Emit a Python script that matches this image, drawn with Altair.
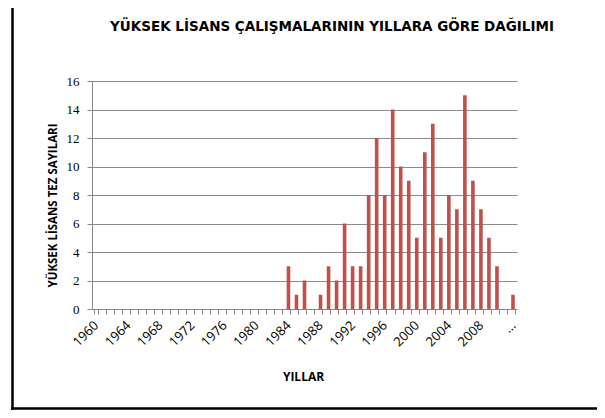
import altair as alt
import pandas as pd

years = [str(y) for y in range(1960, 2012)] + ["..."]
counts = [0] * 24 + [3, 1, 2, 0, 1, 3, 2, 6, 3, 3, 8, 12, 8, 14, 10, 9, 5, 11, 13, 5, 8, 7, 15, 9, 7, 5, 3, 0, 1]
shown_labels = [str(y) for y in range(1960, 2012, 4)] + ["..."]
y_ticks = [0, 2, 4, 6, 8, 10, 12, 14, 16]

title_text = "YÜKSEK LİSANS ÇALIŞMALARININ YILLARA GÖRE DAĞILIMI"
x_title = "YILLAR"
y_title = "YÜKSEK LİSANS TEZ  SAYILARI"

df = pd.DataFrame({"yil": years, "sayi": counts})

label_list = "[" + ",".join("'" + s + "'" for s in shown_labels) + "]"

bars = alt.Chart(df).mark_bar(color="#C0504D").encode(
    x=alt.X(
        "yil:N",
        sort=years,
        scale=alt.Scale(paddingInner=0.55, paddingOuter=0.275),
        axis=alt.Axis(
            title=x_title,
            titleFont="Open Sans",
            titleFontSize=12,
            titleFontWeight="bold",
            titleColor="#000000",
            titleX=211,
            titleY=67,
            titleBaseline="middle",
            titleAlign="center",
            labelExpr="indexof(" + label_list + ", datum.label) >= 0 ? datum.label : ''",
            labelAngle=-45,
            labelAlign="right",
            labelBaseline="middle",
            labelFont="Open Sans",
            labelFontSize=13,
            labelColor="#000000",
            labelPadding=9,
            labelOverlap=False,
            tickBand="extent",
            tickSize=5,
            tickColor="#868686",
            domainColor="#868686",
            grid=False,
        ),
    ),
    y=alt.Y(
        "sayi:Q",
        scale=alt.Scale(domain=[0, 16], nice=False),
        axis=alt.Axis(
            values=y_ticks,
            title=y_title,
            titleFont="Open Sans",
            titleFontSize=11.5,
            titleFontWeight="bold",
            titleColor="#000000",
            titleAngle=-90,
            titleX=-39,
            titleY=124,
            titleAlign="center",
            titleBaseline="middle",
            labelFont="Liberation Serif",
            labelFontSize=13,
            labelColor="#000000",
            labelPadding=8,
            tickSize=5,
            tickColor="#868686",
            domainColor="#868686",
            gridColor="#8C8C8C",
            gridWidth=1,
        ),
    ),
)

frame_df = pd.DataFrame({"a": [0]})
left_line = alt.Chart(frame_df).mark_rule(color="#000000", strokeWidth=2.5).encode(
    x=alt.value(-79.5), y=alt.value(-81), y2=alt.value(330)
)
bottom_line = alt.Chart(frame_df).mark_rule(color="#000000", strokeWidth=2.5).encode(
    x=alt.value(-81), x2=alt.value(505), y=alt.value(327.5)
)
title_mark = alt.Chart(frame_df).mark_text(
    font="DejaVu Sans",
    fontSize=13.5,
    fontWeight="bold",
    color="#000000",
    align="center",
    baseline="alphabetic",
).encode(x=alt.value(240), y=alt.value(-50), text=alt.value(title_text))

chart = alt.layer(bars, left_line, bottom_line, title_mark).properties(
    width=425,
    height=228,
    autosize=alt.AutoSizeParams(type="none"),
    padding={"left": 84, "top": 73, "right": 80, "bottom": 101},
).configure_view(stroke=None)

chart.save("out.html", embed_options={"renderer": "svg", "actions": False})
